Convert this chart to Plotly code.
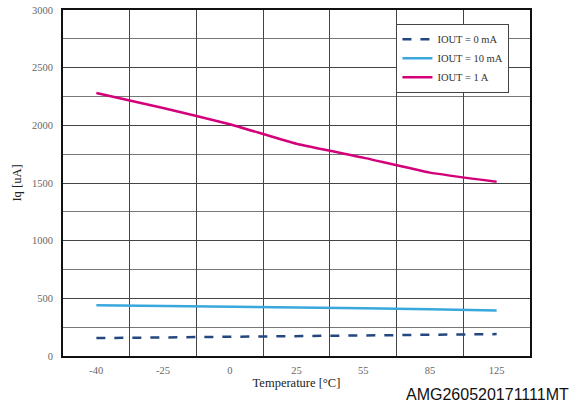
import plotly.graph_objects as go

temps = ["-40", "-25", "0", "25", "55", "85", "125"]
iq_0ma = [155, 160, 167, 173, 178, 185, 190]
iq_10ma = [440, 435, 428, 422, 415, 405, 395]
iq_1a = [2280, 2150, 2010, 1840, 1720, 1590, 1510]

fig = go.Figure()
fig.add_trace(go.Scatter(x=temps, y=iq_0ma, mode="lines", name="IOUT = 0 mA",
                         line=dict(color="#24477F", width=2.5, dash="dash")))
fig.add_trace(go.Scatter(x=temps, y=iq_10ma, mode="lines", name="IOUT = 10 mA",
                         line=dict(color="#3AA8DE", width=2.5)))
fig.add_trace(go.Scatter(x=temps, y=iq_1a, mode="lines", name="IOUT = 1 A",
                         line=dict(color="#D4007A", width=2.5, shape="spline", smoothing=0.3)))

serif = "Liberation Serif"
fig.update_layout(
    width=580, height=405,
    margin=dict(l=63, r=50, t=10, b=49, autoexpand=False),
    paper_bgcolor="white", plot_bgcolor="white",
    font=dict(family=serif, size=10, color="#555"),
    legend=dict(x=0.714, y=0.96, xanchor="left", yanchor="top",
                bgcolor="white", bordercolor="#444", borderwidth=1,
                font=dict(family=serif, size=10.5, color="#333"),
                tracegroupgap=0, itemwidth=30),
    xaxis=dict(type="category", tickson="boundaries", showgrid=True, automargin=False,
               gridcolor="#444", gridwidth=1, ticks="", showline=True,
               linecolor="#111", linewidth=2, mirror=True, ticklabelstandoff=3,
               tickfont=dict(family=serif, size=10.5, color="#666"),
               title=dict(text="Temperature [°C]", font=dict(family=serif, size=12.5, color="#222"),
                          standoff=4),
               range=[-0.5, 6.5]),
    yaxis=dict(range=[0, 3000], dtick=500, showgrid=True, gridcolor="#444", gridwidth=1,
               automargin=False,
               minor=dict(dtick=250, showgrid=True, gridcolor="#777", gridwidth=1),
               showline=True, linecolor="#111", linewidth=2, mirror=True, ticks="",
               zeroline=False, ticklabelstandoff=6,
               tickfont=dict(family=serif, size=10.5, color="#666"),
               title=dict(text="Iq [uA]", font=dict(family=serif, size=12.5, color="#222"),
                          standoff=8)),
    annotations=[dict(text="AMG260520171111MT", xref="paper", yref="paper",
                      x=1.088, y=-0.08, xanchor="right", yanchor="top",
                      showarrow=False,
                      font=dict(family="Liberation Sans", size=16, color="#111"))],
)

fig.write_html("out.html", config={"displayModeBar": False},
               post_script="document.body.style.margin='0';document.body.style.overflow='hidden';")
